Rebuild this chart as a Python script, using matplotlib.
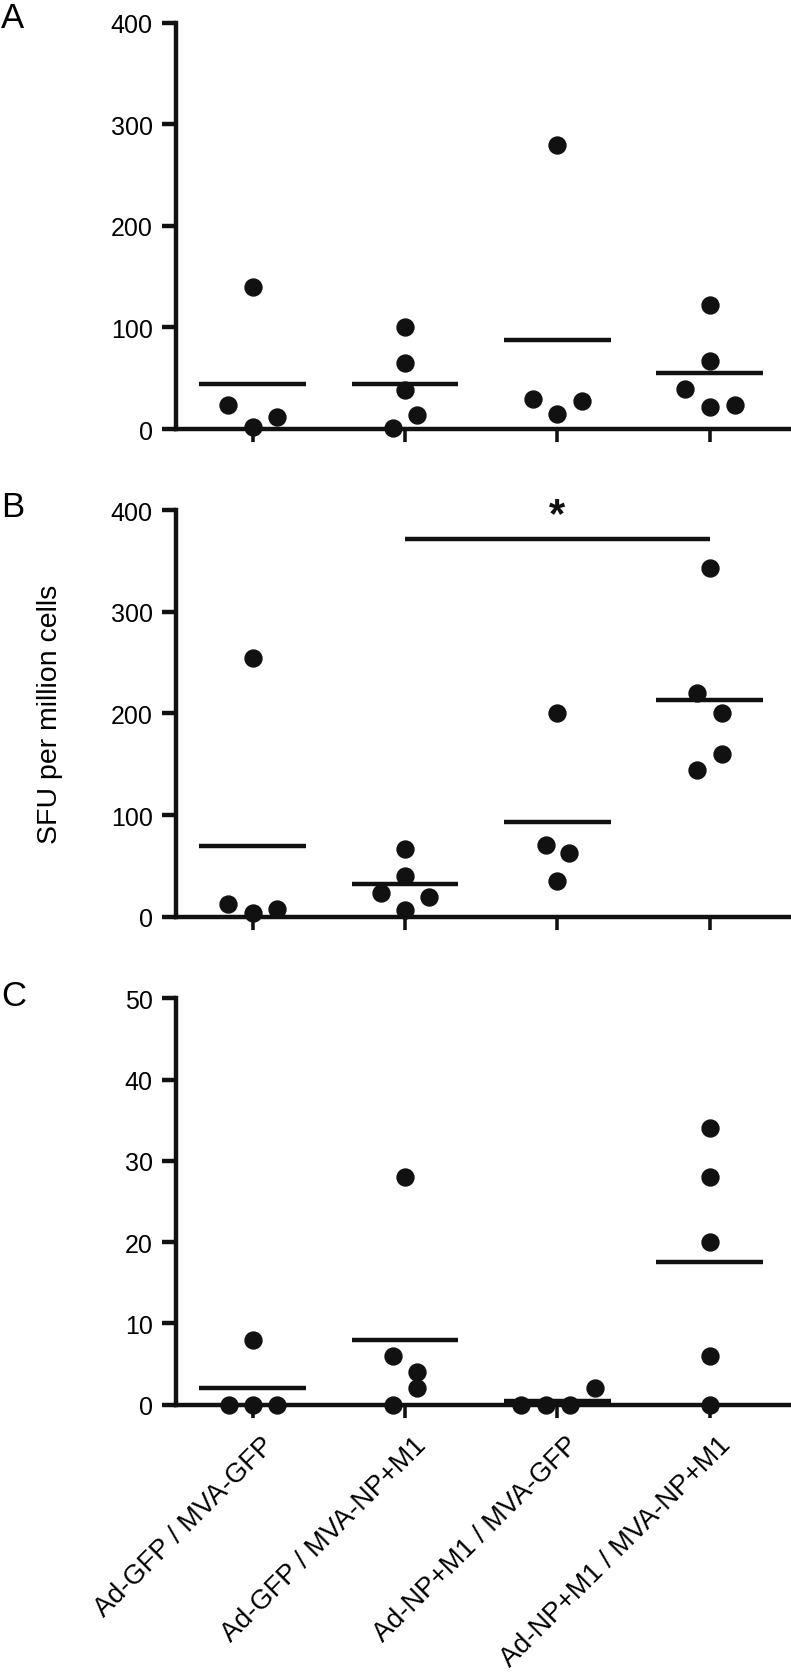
import matplotlib.pyplot as plt
import numpy as np
from matplotlib.transforms import ScaledTranslation

plt.rcParams['font.family'] = ['Liberation Sans', 'DejaVu Sans']

groups = ['Ad-GFP / MVA-GFP', 'Ad-GFP / MVA-NP+M1',
          'Ad-NP+M1 / MVA-GFP', 'Ad-NP+M1 / MVA-NP+M1']

# panel A
a_vals = [[140, 24, 2, 12], [100, 65, 38, 14, 1], [280, 30, 15, 28], [122, 67, 39, 22, 24]]
a_offs = [[0, -0.16, 0, 0.16], [0, 0, 0, 0.08, -0.08], [0, -0.16, 0, 0.16], [0, 0, -0.16, 0, 0.165]]
a_means = [44, 44, 88, 55]

# panel B
b_vals = [[255, 12, 4, 8], [67, 40, 23, 19, 7], [200, 71, 63, 35], [343, 220, 200, 160, 144]]
b_offs = [[0, -0.16, 0, 0.16], [0, 0, -0.16, 0.16, 0], [0, -0.075, 0.08, 0], [0, -0.08, 0.08, 0.08, -0.08]]
b_means = [69.5, 32, 93, 213]

# panel C
c_vals = [[8, 0, 0, 0], [28, 6, 4, 2, 0], [0, 0, 0, 2], [34, 28, 20, 6, 0]]
c_offs = [[0, -0.155, 0, 0.16], [0, -0.08, 0.08, 0.08, -0.08], [-0.235, -0.075, 0.085, 0.245], [0, 0, 0, 0, 0]]
c_means = [2, 8, 0.5, 17.6]

LW = 3.2

fig = plt.figure(figsize=(7.91, 16.74), dpi=100)
left, width, height = 0.2231, 0.7769, 0.2428
bottoms = [0.7431, 0.4518, 0.1603]


def panel(ax, vals, offs, means, ymax, step):
    for i, (v, o) in enumerate(zip(vals, offs)):
        x = i + 1 + np.array(o)
        ax.plot(x, v, 'o', color='#111111', markersize=12.2, clip_on=False, zorder=3)
        ax.plot([i + 1 - 0.35, i + 1 + 0.35], [means[i], means[i]], color='#111111',
                lw=LW, solid_capstyle='butt', clip_on=False, zorder=2)
    ax.set_xlim(0.5, 4.535)
    ax.set_ylim(0, ymax)
    ax.set_yticks(np.arange(0, ymax + 1, step))
    ax.set_xticks([1, 2, 3, 4])
    ax.spines['top'].set_visible(False)
    ax.spines['right'].set_visible(False)
    for s in ['left', 'bottom']:
        ax.spines[s].set_linewidth(LW)
        ax.spines[s].set_color('#111111')
    ax.tick_params(axis='y', length=10, width=LW, pad=7, labelsize=18, color='#111111')
    ax.tick_params(axis='x', length=9, width=LW * 0.8, color='#111111')


axA = fig.add_axes([left, bottoms[0], width, height])
axB = fig.add_axes([left, bottoms[1], width, height])
axC = fig.add_axes([left, bottoms[2], width, height])

panel(axA, a_vals, a_offs, a_means, 400, 100)
panel(axB, b_vals, b_offs, b_means, 400, 100)
panel(axC, c_vals, c_offs, c_means, 50, 10)

axA.set_xticklabels([])
axB.set_xticklabels([])
axC.set_xticklabels(groups, rotation=45, ha='right', va='center',
                    rotation_mode='anchor', fontsize=19.5)
axC.tick_params(axis='x', pad=17)
for lab in axC.get_xticklabels():
    lab.set_transform(lab.get_transform() + ScaledTranslation(0.17, 0, fig.dpi_scale_trans))

# significance bar
axB.plot([2, 4], [372, 372], color='#111111', lw=LW, solid_capstyle='butt', clip_on=False)
axB.text(3, 384, '*', ha='center', va='baseline', fontsize=30, fontweight='bold', color='#111111')

fig.text(50 / 791, 1 - 714 / 1674, 'SFU per million cells', rotation=90,
         ha='center', va='center', fontsize=20.5)

for letter, yb in zip(['A', 'B', 'C'], [28, 517, 1006]):
    fig.text(1 / 791, 1 - yb / 1674, letter, ha='left', va='baseline', fontsize=25)

fig.savefig('out.png', dpi=100)
